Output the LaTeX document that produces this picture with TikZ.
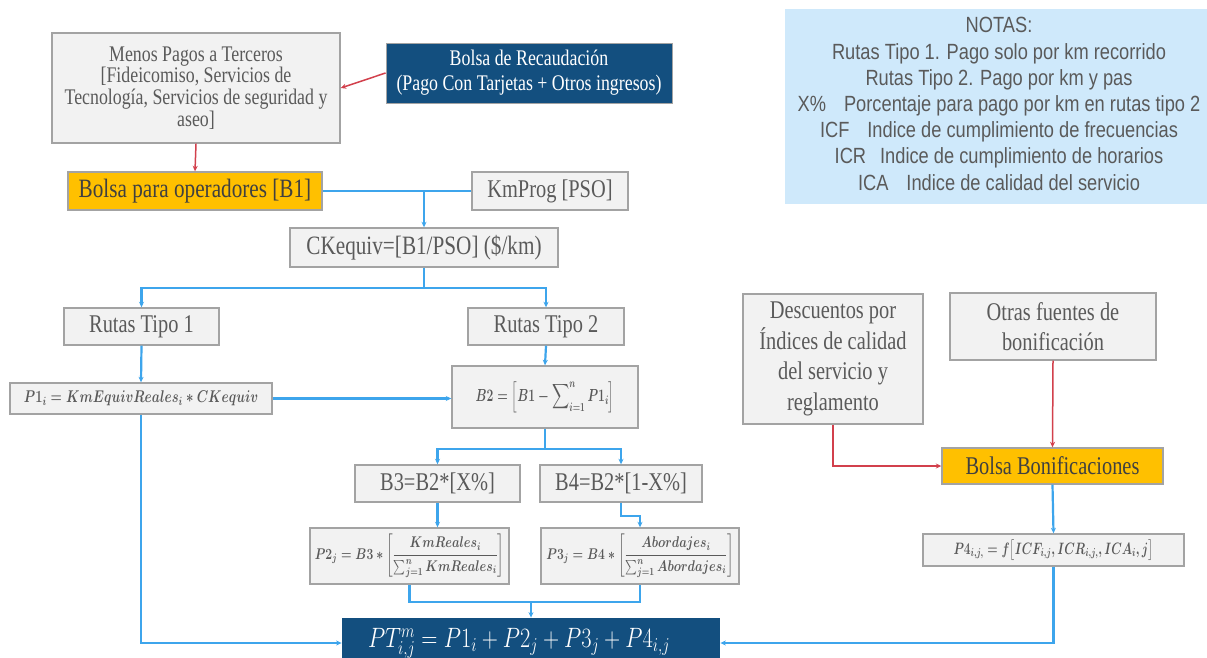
\documentclass[tikz,border=0pt]{standalone}
\usepackage{fix-cm}
\usepackage{amsmath}
\usepackage{graphicx}
\usepackage{fontspec}
\setmainfont{Liberation Serif}[FakeStretch=0.8]
\newfontfamily\notefont{Liberation Sans}[FakeStretch=0.83]
\usetikzlibrary{arrows.meta,calc}
\definecolor{boxfill}{HTML}{F2F2F2}
\definecolor{boxborder}{HTML}{A3A3A3}
\definecolor{txtgray}{HTML}{5A5A5A}
\definecolor{darktxt}{HTML}{404040}
\definecolor{orangeC}{HTML}{FFC000}
\definecolor{navy}{HTML}{134F7F}
\definecolor{bluec}{HTML}{3DA5EC}
\definecolor{redc}{HTML}{D2404C}
\definecolor{notefill}{HTML}{CFE9FB}
\tikzset{
  gbox/.style={draw=boxborder, fill=boxfill, line width=1.4pt, text=txtgray, inner sep=0pt, align=center},
  obox/.style={draw=boxborder, fill=orangeC, line width=1.4pt, text=darktxt, inner sep=0pt, align=center},
  dbox/.style={draw=boxborder, fill=navy, line width=0.8pt, text=white, inner sep=0pt, align=center},
  bl/.style={draw=bluec, line width=2.2pt},
  blarr/.style={bl, -{Stealth[length=5.5pt,width=5pt]}},
  rd/.style={draw=redc, line width=1.5pt},
  rdarr/.style={rd, -{Stealth[length=5.5pt,width=5pt]}},
  big/.style={font=\fontsize{25.5}{30}\selectfont},
}
\begin{document}
\begin{tikzpicture}[x=1pt,y=-1pt]
\useasboundingbox (0,0) rectangle (1207,658);
\clip (0,0) rectangle (1207,658);
\fill[white] (0,0) rectangle (1207,658);

% notes
\fill[notefill] (785,9) rectangle (1212,204);
\node[text=txtgray, align=center, inner sep=0pt,
  font=\notefont\fontsize{22}{26.2}\selectfont] (notes) at (999,104)
  {NOTAS:\\
   Rutas Tipo 1. Pago solo por km recorrido\\
   Rutas Tipo 2. Pago por km y pas\\
   X\%\hspace{18pt}Porcentaje para pago por km en rutas tipo 2\\
   ICF\hspace{18pt}Indice de cumplimiento de frecuencias\\
   ICR\hspace{14pt}Indice de cumplimiento de horarios\\
   ICA\hspace{18pt}Indice de calidad del servicio};

% top
\node[gbox, minimum width=288pt, minimum height=110pt,
  font=\fontsize{22.3}{21.8}\selectfont] (menos) at (196,88)
  {Menos Pagos a Terceros\\{[}Fideicomiso, Servicios de\\Tecnología, Servicios de seguridad y\\aseo{]}};
\node[dbox, minimum width=286pt, minimum height=60pt,
  font=\fontsize{22.3}{25}\selectfont] (rec) at (529,73)
  {Bolsa de Recaudación\\(Pago Con Tarjetas + Otros ingresos)};
\node[obox, minimum width=254pt, minimum height=38pt,
  font=\fontsize{26.5}{30}\selectfont] (b1) at (195,191) {Bolsa para operadores [B1]};
\node[gbox, big, minimum width=156pt, minimum height=38pt] (km) at (550,191) {KmProg [PSO]};
\node[gbox, minimum width=268pt, minimum height=39pt,
  font=\fontsize{26.5}{30}\selectfont] (ck) at (424,247.5) {CKequiv=[B1/PSO] (\$/km)};

% routes
\node[gbox, big, minimum width=155pt, minimum height=37pt] (r1) at (141.5,326.5) {Rutas Tipo 1};
\node[gbox, big, minimum width=156pt, minimum height=37pt] (r2) at (546,326.5) {Rutas Tipo 2};
\node[gbox, minimum width=262pt, minimum height=31pt,
  font=\fontsize{17}{20}\selectfont] (p1) at (141,398.5)
  {\scalebox{0.76}[1]{\boldmath$P1_i = KmEquivReales_i * CKequiv$}};
\node[gbox, minimum width=186pt, minimum height=62pt,
  font=\fontsize{17.5}{20}\selectfont] (b2) at (545,397)
  {\scalebox{0.69}[1]{\boldmath$B2 = \left[B1 - \displaystyle\sum\nolimits_{i=1}^{n} P1_i\right]$}};
\node[gbox, big, minimum width=165pt, minimum height=37pt] (b3) at (437.5,483.5) {B3=B2*[X\%]};
\node[gbox, big, minimum width=162pt, minimum height=37pt] (b4) at (621,483.5) {B4=B2*[1-X\%]};
\node[gbox, minimum width=199pt, minimum height=56pt,
  font=\fontsize{15.5}{18}\selectfont] (p2) at (409.5,556)
  {\scalebox{0.78}[1]{\boldmath$P2_j = B3 * \left[\dfrac{KmReales_i}{\sum_{j=1}^{n}KmReales_i}\right]$}};
\node[gbox, minimum width=198pt, minimum height=56pt,
  font=\fontsize{15.5}{18}\selectfont] (p3) at (640,556)
  {\scalebox{0.78}[1]{\boldmath$P3_j = B4 * \left[\dfrac{Abordajes_i}{\sum_{j=1}^{n}Abordajes_i}\right]$}};
\node[dbox, draw=none, minimum width=378pt, minimum height=50pt,
  font=\fontsize{28}{32}\selectfont] (pt) at (531,643)
  {\hspace*{-24pt}\scalebox{0.8}[1]{$PT^{m}_{i,j} = P1_i + P2_j + P3_j + P4_{i,j}$}};

% right
\node[gbox, minimum width=180pt, minimum height=130pt,
  font=\fontsize{25.5}{30.5}\selectfont] (desc) at (833,359)
  {Descuentos por\\Índices de calidad\\del servicio y\\reglamento};
\node[gbox, minimum width=206pt, minimum height=67pt,
  font=\fontsize{25.5}{29.5}\selectfont] (otras) at (1053,326.5)
  {Otras fuentes de\\bonificación};
\node[obox, big, minimum width=221pt, minimum height=36pt] (bonif) at (1052.5,466) {Bolsa Bonificaciones};
\node[gbox, minimum width=261pt, minimum height=32pt,
  font=\fontsize{16.5}{19}\selectfont] (p4) at (1053.5,550)
  {\scalebox{0.72}[1]{\boldmath$P4_{i,j,} = f\big[ICF_{i,j}, ICR_{i,j,}, ICA_{i}, j\big]$}};

% red connectors
\draw[rdarr] (rec.west) -- (menos.east);
\draw[rdarr] (menos.south) -- (b1.north);
\draw[rdarr] (desc.south) |- (bonif.west);
\draw[rdarr] (otras.south) -- (bonif.north);

% blue connectors
\coordinate (j1) at (ck.north |- b1.east);
\draw[bl] (b1.east) -- (km.west);
\draw[blarr] (j1) -- (ck.north);
\coordinate (j2) at ($(ck.south)+(0,20)$);
\draw[bl] (ck.south) -- (j2);
\draw[blarr] (j2) -| (r1.north);
\draw[blarr] (j2) -| (r2.north);
\draw[blarr] (r1.south) -- (p1.north);
\draw[blarr] (r2.south) -- (b2.north);
\draw[blarr] (p1.east) -- (p1.east -| b2.west);
\coordinate (j3) at ($(b2.south)+(0,20)$);
\draw[bl] (b2.south) -- (j3);
\draw[blarr] (j3) -| (b3.north);
\draw[blarr] (j3) -| (b4.north);
\draw[blarr] (b3.south) -- (b3.south |- p2.north);
\draw[blarr] (b4.south) -- ++(0,13) -| (p3.north);
\coordinate (j4) at (pt.north |- 0,602);
\draw[bl] (p2.south) |- (j4) -| (p3.south);
\draw[blarr] (j4) -- (pt.north);
\draw[blarr] (p1.south) |- (pt.west);
\draw[blarr] (bonif.south) -- (p4.north);
\draw[blarr] (p4.south) |- (pt.east);
\end{tikzpicture}
\end{document}
